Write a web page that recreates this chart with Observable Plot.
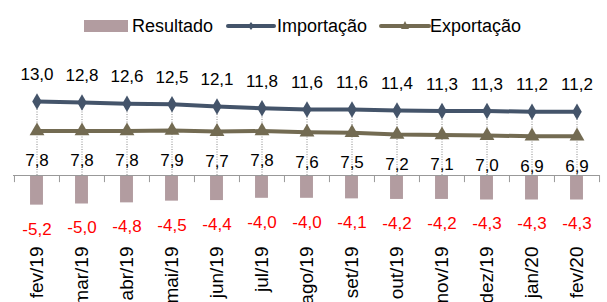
<!DOCTYPE html>
<html>
<head>
<meta charset="utf-8">
<script src="https://cdn.jsdelivr.net/npm/d3@7"></script>
<script src="https://cdn.jsdelivr.net/npm/@observablehq/plot@0.6"></script>
<style>
  body { margin: 0; background: #fff; font-family: "Liberation Sans", Arial, sans-serif; }
  #wrap { position: relative; width: 607px; height: 302px; overflow: hidden; }
  #legend { position: relative; width: 607px; height: 48px; }
  .lg { position: absolute; font-size: 18px; line-height: 20px; top: 16px; color: #000; }
  .sw { position: absolute; }
</style>
</head>
<body>
<div id="wrap">
  <div id="legend">
    <svg class="sw" style="left:84px;top:20px" width="44" height="12"><rect x="0" y="0" width="44" height="12" fill="#B29CA0"/></svg>
    <div class="lg" style="left:132px">Resultado</div>
    <svg class="sw" style="left:226px;top:19px" width="50" height="14"><line x1="2" x2="48" y1="7" y2="7" stroke="#44546A" stroke-width="4" stroke-linecap="round"/><path d="M25,3 L28,7 L25,11 L22,7 Z" fill="#44546A"/></svg>
    <div class="lg" style="left:277px">Importação</div>
    <svg class="sw" style="left:379px;top:19px" width="52" height="14"><line x1="2" x2="50" y1="7" y2="7" stroke="#736B52" stroke-width="4" stroke-linecap="round"/><path d="M26,2 L30,10 L22,10 Z" fill="#736B52"/></svg>
    <div class="lg" style="left:430px">Exportação</div>
  </div>
  <div id="chart"></div>
</div>
<script>
const months = ["fev/19","mar/19","abr/19","mai/19","jun/19","jul/19","ago/19","set/19","out/19","nov/19","dez/19","jan/20","fev/20"];
const importacao = [13.0,12.8,12.6,12.5,12.1,11.8,11.6,11.6,11.4,11.3,11.3,11.2,11.2];
const exportacao = [7.8,7.8,7.8,7.9,7.7,7.8,7.6,7.5,7.2,7.1,7.0,6.9,6.9];
const resultado = [-5.2,-5.0,-4.8,-4.5,-4.4,-4.0,-4.0,-4.1,-4.2,-4.2,-4.3,-4.3,-4.3];

const data = months.map((m, i) => ({m, imp: importacao[i], exp: exportacao[i], res: resultado[i]}));
const fmt = v => v.toFixed(1).replace(".", ",");

const W = 607, H = 254;
const x0 = 13, x1 = 599;
const half = (x1 - x0) / months.length / 2;
const pxPerUnit = 5.7, zeroY = 127;
const yDom = [-8, 14];
const yRange = [zeroY - yDom[0] * pxPerUnit, zeroY - yDom[1] * pxPerUnit];

const cImp = "#44546A", cExp = "#736B52", cRes = "#B29CA0";

const chart = Plot.plot({
  width: W, height: H,
  marginLeft: x0, marginRight: W - x1, marginTop: 0, marginBottom: 62,
  style: {fontFamily: "Liberation Sans, Arial, sans-serif", fontSize: "19px", color: "#000", background: "transparent"},
  x: {type: "band", domain: months, range: [x0, x1], padding: 0, axis: null},
  y: {domain: yDom, range: yRange, axis: null},
  marks: [
    Plot.barY(data, {x: "m", y: "res", fill: cRes, insetLeft: half - 6.5, insetRight: half - 6.5}),
    Plot.ruleY([0], {stroke: "#999", strokeWidth: 1}),
    Plot.ruleX(data, {x: "m", dx: -half, y1: 0, y2: -1.25, stroke: "#999", strokeWidth: 1}),
    Plot.ruleX(data.slice(-1), {x: "m", dx: half, y1: 0, y2: -1.25, stroke: "#999", strokeWidth: 1}),
    Plot.ruleX(data, {x: "m", y1: 0, y2: "imp", stroke: "#888", strokeWidth: 1, strokeDasharray: "1,1.5"}),
    Plot.line(data, {x: "m", y: "exp", stroke: cExp, strokeWidth: 4}),
    Plot.dot(data, {x: "m", y: "exp", symbol: "triangle", r: 5.5, fill: cExp, stroke: "none"}),
    Plot.line(data, {x: "m", y: "imp", stroke: cImp, strokeWidth: 4}),
    Plot.dot(data, {x: "m", y: "imp", symbol: "diamond", r: 5, fill: cImp, stroke: "none"}),
    Plot.text(data, {x: "m", y: "imp", text: d => fmt(d.imp), dy: -27, fontSize: 17, fill: "#000"}),
    Plot.text(data, {x: "m", y: "exp", text: d => fmt(d.exp), dy: 30, fontSize: 17, fill: "#000"}),
    Plot.text(data, {x: "m", y: "res", text: d => fmt(d.res), dy: 24, fontSize: 17, fill: "#FF0000"}),
    Plot.axisX({tickSize: 0, tickPadding: 6, tickRotate: -90, fontSize: 19, label: null, fill: "#000"})
  ]
});
document.getElementById("chart").appendChild(chart);
</script>
</body>
</html>
